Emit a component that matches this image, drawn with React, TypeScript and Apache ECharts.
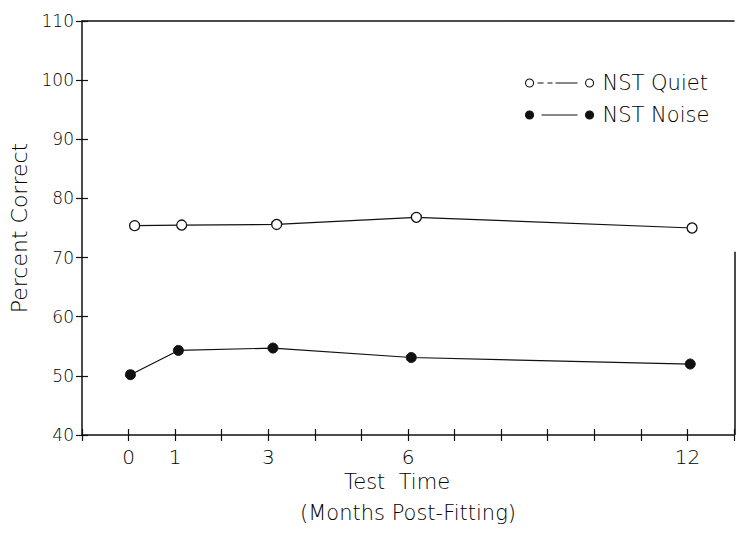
import React, { useEffect, useRef } from "react";
import * as echarts from "echarts";

const monthsQuiet = [0.13, 1.14, 3.18, 6.18, 12.1];
const quietValues = [75.4, 75.5, 75.6, 76.8, 75.0];
const monthsNoise = [0.04, 1.07, 3.1, 6.07, 12.06];
const noiseValues = [50.2, 54.3, 54.7, 53.1, 52.0];
const xTickLabels = [0, 1, 3, 6, 12];
const seriesNames = ["NST Quiet", "NST Noise"];

const FONT = "DejaVu Sans";
const INK = "#111111";
const TXT = "#000000";

const quietIcon =
  "path://M0 4a4 4 0 1 0 8 0a4 4 0 1 0 -8 0M12 4L18 4M22 4L27 4M30 4L52 4M60 4a4 4 0 1 0 8 0a4 4 0 1 0 -8 0";
const noiseIcon =
  "path://M0 4a4 4 0 1 0 8 0a4 4 0 1 0 -8 0M16 4L52 4M60 4a4 4 0 1 0 8 0a4 4 0 1 0 -8 0";

export default function App() {
  const ref = useRef<HTMLDivElement>(null);
  useEffect(() => {
    document.body.style.margin = "0";
    const chart = echarts.init(ref.current!, null, { renderer: "svg" });
    const quietData = monthsQuiet.map((m, i) => [m, quietValues[i]]);
    const noiseData = monthsNoise.map((m, i) => [m, noiseValues[i]]);
    const xCommon = {
      type: "value" as const,
      min: -1,
      max: 13,
      interval: 1,
      splitLine: { show: false },
    };
    const yCommon = {
      type: "value" as const,
      min: 40,
      max: 110,
      interval: 10,
      splitLine: { show: false },
    };
    chart.setOption({
      animation: false,
      backgroundColor: "#ffffff",
      textStyle: { fontFamily: FONT, fontWeight: 200, color: TXT },
      grid: { left: 82, top: 21, width: 652, height: 414, containLabel: false },
      legend: {
        orient: "vertical",
        left: 520,
        top: 67,
        itemWidth: 68,
        itemHeight: 8,
        itemGap: 10,
        textStyle: {
          fontFamily: FONT,
          fontWeight: 200,
          fontSize: 21,
          lineHeight: 22,
          color: TXT,
          padding: [0, 0, 0, 4],
        },
        data: [
          {
            name: seriesNames[0],
            icon: quietIcon,
            itemStyle: { color: "#ffffff", borderColor: INK, borderWidth: 1.1 },
          },
          {
            name: seriesNames[1],
            icon: noiseIcon,
            itemStyle: { color: INK, borderColor: INK, borderWidth: 1.1 },
          },
        ],
      },
      xAxis: [
        {
          ...xCommon,
          position: "bottom",
          axisLine: { show: true, onZero: false, lineStyle: { color: INK, width: 1.5 } },
          axisTick: { show: true, inside: false, length: 6, lineStyle: { color: INK, width: 1.2 } },
          axisLabel: {
            margin: 12,
            fontSize: 20,
            fontFamily: FONT,
            fontWeight: 200,
            color: TXT,
            formatter: (v: number) => (xTickLabels.includes(v) ? String(v) : ""),
          },
          name: "{a|Test  Time}\n{b|(Months Post-Fitting)}",
          nameLocation: "middle",
          nameGap: 26,
          nameTextStyle: {
            fontFamily: FONT,
            fontWeight: 200,
            fontSize: 21,
            color: TXT,
            rich: {
              a: { fontFamily: FONT, fontWeight: 200, fontSize: 21, lineHeight: 31, color: TXT, padding: [0, 22, 0, 0] },
              b: { fontFamily: FONT, fontWeight: 200, fontSize: 21, lineHeight: 31, color: TXT },
            },
          },
        },
        {
          ...xCommon,
          position: "bottom",
          axisLine: { show: false, onZero: false },
          axisTick: { show: true, inside: true, length: 6, lineStyle: { color: INK, width: 1.2 } },
          axisLabel: { show: false },
        },
        {
          ...xCommon,
          position: "top",
          axisLine: { show: true, onZero: false, lineStyle: { color: INK, width: 1.5 } },
          axisTick: { show: false },
          axisLabel: { show: false },
        },
      ],
      yAxis: [
        {
          ...yCommon,
          position: "left",
          axisLine: { show: true, onZero: false, lineStyle: { color: INK, width: 1.5 } },
          axisTick: { show: true, inside: false, length: 6, lineStyle: { color: INK, width: 1.2 } },
          axisLabel: { margin: 8, fontSize: 17, fontFamily: FONT, fontWeight: 200, color: TXT },
          name: "Percent Correct",
          nameLocation: "middle",
          nameGap: 52,
          nameTextStyle: { fontFamily: FONT, fontWeight: 200, fontSize: 22, color: TXT },
        },
        {
          ...yCommon,
          position: "left",
          axisLine: { show: false, onZero: false },
          axisTick: { show: true, inside: true, length: 6, lineStyle: { color: INK, width: 1.2 } },
          axisLabel: { show: false },
        },
      ],
      series: [
        {
          name: seriesNames[0],
          type: "line",
          xAxisIndex: 0,
          yAxisIndex: 0,
          data: quietData,
          symbol: "circle",
          symbolSize: 10,
          itemStyle: { color: "#ffffff", borderColor: INK, borderWidth: 1.3 },
          lineStyle: { color: INK, width: 1.2 },
          z: 3,
        },
        {
          name: seriesNames[1],
          type: "line",
          xAxisIndex: 0,
          yAxisIndex: 0,
          data: noiseData,
          symbol: "circle",
          symbolSize: 10,
          itemStyle: { color: INK, borderColor: INK, borderWidth: 1 },
          lineStyle: { color: INK, width: 1.2 },
          z: 3,
        },
      ],
    });
    // partial right frame edge (lower part visible in the reference)
    const p1 = chart.convertToPixel({ gridIndex: 0 }, [13, 71]) as number[];
    const p2 = chart.convertToPixel({ gridIndex: 0 }, [13, 40]) as number[];
    chart.setOption({
      graphic: [
        {
          type: "line",
          shape: { x1: p1[0] + 1, y1: p1[1], x2: p2[0] + 1, y2: p2[1] },
          style: { stroke: INK, lineWidth: 1.5 },
        },
      ],
    });
    return () => chart.dispose();
  }, []);
  return <div ref={ref} style={{ width: 739, height: 537 }} />;
}
